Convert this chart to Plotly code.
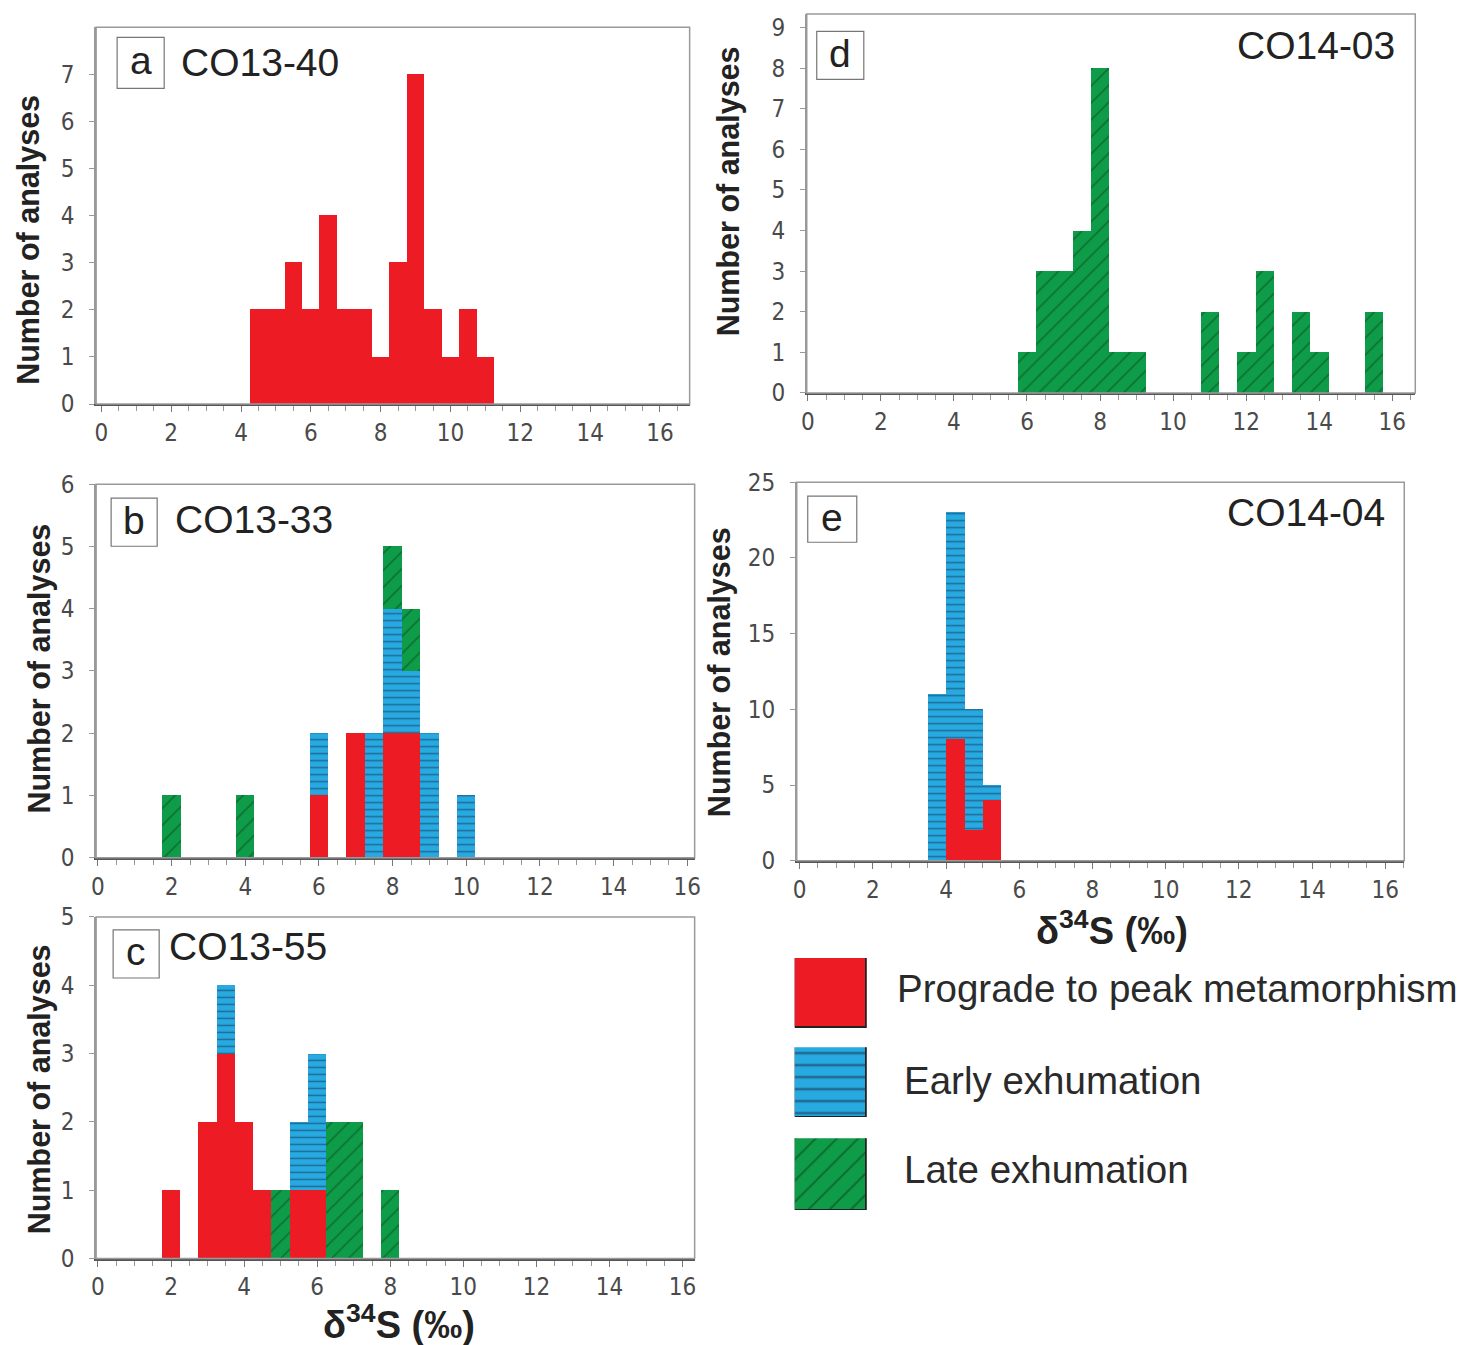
import plotly.graph_objects as go

# canvas in figure pixels; reference pixel positions are converted with a
# measured page transform (screen = S * (figure + offset))
W, H = 1475, 1380
SX, SY = 0.991, 0.978
OFFX, OFFY = 5.0, 15.0

# ---------------- data (bin centres in permil, counts) ----------------
categories = ["Prograde to peak metamorphism", "Early exhumation", "Late exhumation"]
x_ticks = [0, 2, 4, 6, 8, 10, 12, 14, 16]

a_red_x = [4.5, 5.0, 5.5, 6.0, 6.5, 7.0, 7.5, 8.0, 8.5, 9.0, 9.5, 10.0, 10.5, 11.0]
a_red_y = [2, 2, 3, 2, 4, 2, 2, 1, 3, 7, 2, 1, 2, 1]

b_red_x = [6.0, 7.0, 8.0, 8.5]
b_red_y = [1, 2, 2, 2]
b_blue_x = [6.0, 7.5, 8.0, 8.5, 9.0, 10.0]
b_blue_y = [1, 2, 2, 1, 2, 1]
b_green_x = [2.0, 4.0, 8.0, 8.5]
b_green_y = [1, 1, 1, 1]

c_red_x = [2.0, 3.0, 3.5, 4.0, 4.5, 5.5, 6.0]
c_red_y = [1, 2, 3, 2, 1, 1, 1]
c_blue_x = [3.5, 5.5, 6.0]
c_blue_y = [1, 1, 2]
c_green_x = [5.0, 6.5, 7.0, 8.0]
c_green_y = [1, 2, 2, 1]

d_green_x = [6.0, 6.5, 7.0, 7.5, 8.0, 8.5, 9.0, 11.0, 12.0, 12.5, 13.5, 14.0, 15.5]
d_green_y = [1, 3, 3, 4, 8, 1, 1, 2, 1, 3, 2, 1, 2]

e_red_x = [4.25, 4.75, 5.25]
e_red_y = [8, 2, 4]
e_blue_x = [3.75, 4.25, 4.75, 5.25]
e_blue_y = [11, 15, 8, 1]

sample_names = ["CO13-40", "CO13-33", "CO13-55", "CO14-03", "CO14-04"]
panel_letters = ["a", "b", "c", "d", "e"]

# ---------------- styles ----------------
RED = "#ED1C24"
BLUE = "#27A9E1"
GREEN = "#0E9C48"
BIN_W = 0.5


def px(x):
    return min(1.0, max(0.0, (x / SX - OFFX) / W))


def py(y):
    return min(1.0, max(0.0, 1 - (y / SY - OFFY) / H))


def bar_marker(kind, size_blue=7, size_green=12):
    if kind == "red":
        return dict(color=RED, line=dict(width=0))
    if kind == "blue":
        return dict(color=BLUE, line=dict(width=0),
                    pattern=dict(shape="-", fgcolor="#1c2f4a", size=size_blue, solidity=0.22))
    return dict(color=GREEN, line=dict(width=0),
                pattern=dict(shape="/", fgcolor="#0c3a1c", size=size_green, solidity=0.13))


fig = go.Figure()

panels = [
    (1, [("red", a_red_x, a_red_y)], (95, 688), (28, 404), [-0.15, 16.85], [0, 8], list(range(0, 8))),
    (2, [("red", b_red_x, b_red_y), ("blue", b_blue_x, b_blue_y), ("green", b_green_x, b_green_y)],
     (95, 693), (484, 857), [-0.05, 16.2], [0, 6], list(range(0, 7))),
    (3, [("red", c_red_x, c_red_y), ("blue", c_blue_x, c_blue_y), ("green", c_green_x, c_green_y)],
     (95, 693), (916, 1257), [-0.05, 16.33], [0, 5], list(range(0, 6))),
    (4, [("green", d_green_x, d_green_y)], (805, 1413), (12, 393), [-0.03, 16.63], [0, 9.4], list(range(0, 10))),
    (5, [("red", e_red_x, e_red_y), ("blue", e_blue_x, e_blue_y)],
     (795, 1402), (482, 860), [-0.08, 16.52], [0, 25], [0, 5, 10, 15, 20, 25]),
]

tickfont = dict(family="Liberation Sans Narrow, DejaVu Sans Condensed, Liberation Sans, Arial",
                size=24, color="#4a4a4a")
shapes = []
annotations = []

for idx, traces, xd, yd, xr, yr, yt in panels:
    xa = "x" if idx == 1 else f"x{idx}"
    ya = "y" if idx == 1 else f"y{idx}"
    for kind, xs, ys in traces:
        fig.add_trace(go.Bar(x=xs, y=ys, width=BIN_W, marker=bar_marker(kind),
                             xaxis=xa, yaxis=ya, showlegend=False))
    key = "" if idx == 1 else str(idx)
    # keep the data scale when the top of the frame has to be clipped
    y_top_req = py(yd[0])
    y_bot = py(yd[1])
    if y_top_req >= 1.0:
        unclipped = 1 - ((yd[0] / SY - OFFY) / H)
        frac = (1.0 - y_bot) / (unclipped - y_bot)
        yr = [yr[0], yr[0] + (yr[1] - yr[0]) * frac]
    fig.layout["xaxis" + key] = dict(
        domain=[px(xd[0]), px(xd[1])], anchor=ya, range=xr,
        tickvals=x_ticks, ticks="outside", ticklen=6, tickcolor="#777", tickwidth=1,
        minor=dict(dtick=0.5, tick0=0, ticks="outside", ticklen=5, tickcolor="#999"),
        showline=True, linecolor="#555", linewidth=2, showgrid=False, zeroline=False,
        tickfont=tickfont, ticklabelstandoff=0, fixedrange=True)
    fig.layout["yaxis" + key] = dict(
        domain=[y_bot, min(1.0, y_top_req)], anchor=xa, range=yr,
        tickvals=yt, ticks="outside", ticklen=5, tickcolor="#999",
        showline=True, linecolor="#999", linewidth=1.5, showgrid=False, zeroline=False,
        tickfont=tickfont, ticklabelstandoff=10, fixedrange=True)
    shapes.append(dict(type="rect", xref=f"{xa} domain", yref=f"{ya} domain",
                       x0=0, x1=1, y0=0, y1=1, line=dict(color="#9a9a9a", width=1.5),
                       layer="above"))

# ---------------- panel labels ----------------
label_font = dict(family="Liberation Sans, Arial", size=39, color="#222")
boxes = [  # letter box (x0,x1,y0,y1), name position (x, y, anchor)
    ((116, 163, 38, 89), (178, 63, "left")),
    ((110, 156, 498, 546), (172, 519, "left")),
    ((112, 158, 929, 977), (166, 946, "left")),
    ((815, 862, 32, 80), (1395, 46, "right")),
    ((806, 855, 496, 542), (1385, 512, "right")),
]
for (bx, nm), letter, name in zip(boxes, panel_letters, sample_names):
    x0, x1, y0, y1 = bx
    shapes.append(dict(type="rect", xref="paper", yref="paper",
                       x0=px(x0), x1=px(x1), y0=py(y1), y1=py(y0),
                       line=dict(color="#777", width=1.2), fillcolor="white", layer="above"))
    annotations.append(dict(text=letter, xref="paper", yref="paper",
                            x=px((x0 + x1) / 2), y=py((y0 + y1) / 2 - 2), xanchor="center", yanchor="middle",
                            showarrow=False, font=label_font))
    annotations.append(dict(text=name, xref="paper", yref="paper",
                            x=px(nm[0]), y=py(nm[1]), xanchor=nm[2], yanchor="middle",
                            showarrow=False, font=label_font))

# ---------------- axis titles ----------------
ytitle_font = dict(family="Liberation Sans, Arial", size=30.5, color="#222")
for (x, y) in [(28, 240), (38, 668), (38, 1088), (727, 192), (718, 672)]:
    annotations.append(dict(text="<b>Number of analyses</b>", xref="paper", yref="paper",
                            x=px(x), y=py(y), xanchor="center", yanchor="middle", textangle=-90,
                            showarrow=False, font=ytitle_font))

xtitle_font = dict(family="Liberation Sans, Arial", size=38, color="#222")
for (x, y) in [(398, 1320), (1110, 927)]:
    annotations.append(dict(text="<b>δ<sup>34</sup>S (‰)</b>", xref="paper", yref="paper",
                            x=px(x), y=py(y), xanchor="center", yanchor="middle",
                            showarrow=False, font=xtitle_font))

# ---------------- legend (swatches on small hidden axes) ----------------
legend_font = dict(family="Liberation Sans, Arial", size=38.5, color="#2a2a2a")
legend_rows = [("red", (957, 1027), (893, 987)),
               ("blue", (1046, 1116), (900, 1079)),
               ("green", (1137, 1209), (900, 1168))]
for i, ((kind, (sy0, sy1), (tx, ty)), cat) in enumerate(zip(legend_rows, categories)):
    k = 6 + i
    m = bar_marker(kind, size_blue=12, size_green=15)
    m["line"] = dict(color="#222", width=1.5)
    fig.add_trace(go.Bar(x=[0.5], y=[1], width=1, marker=m, xaxis=f"x{k}", yaxis=f"y{k}",
                         showlegend=False, hoverinfo="skip"))
    fig.layout[f"xaxis{k}"] = dict(domain=[px(793), px(865)], anchor=f"y{k}", range=[0, 1],
                                   visible=False, fixedrange=True)
    fig.layout[f"yaxis{k}"] = dict(domain=[py(sy1), py(sy0)], anchor=f"x{k}", range=[0, 1],
                                   visible=False, fixedrange=True)
    annotations.append(dict(text=cat, xref="paper", yref="paper", x=px(tx), y=py(ty),
                            xanchor="left", yanchor="middle", showarrow=False, font=legend_font))

fig.update_layout(
    width=W, height=H, margin=dict(l=0, r=0, t=0, b=0),
    paper_bgcolor="white", plot_bgcolor="white",
    barmode="stack", bargap=0, showlegend=False,
    shapes=shapes, annotations=annotations,
)

fig.write_html("out.html", config={"displayModeBar": False},
               post_script="document.body.style.margin='0px';")
